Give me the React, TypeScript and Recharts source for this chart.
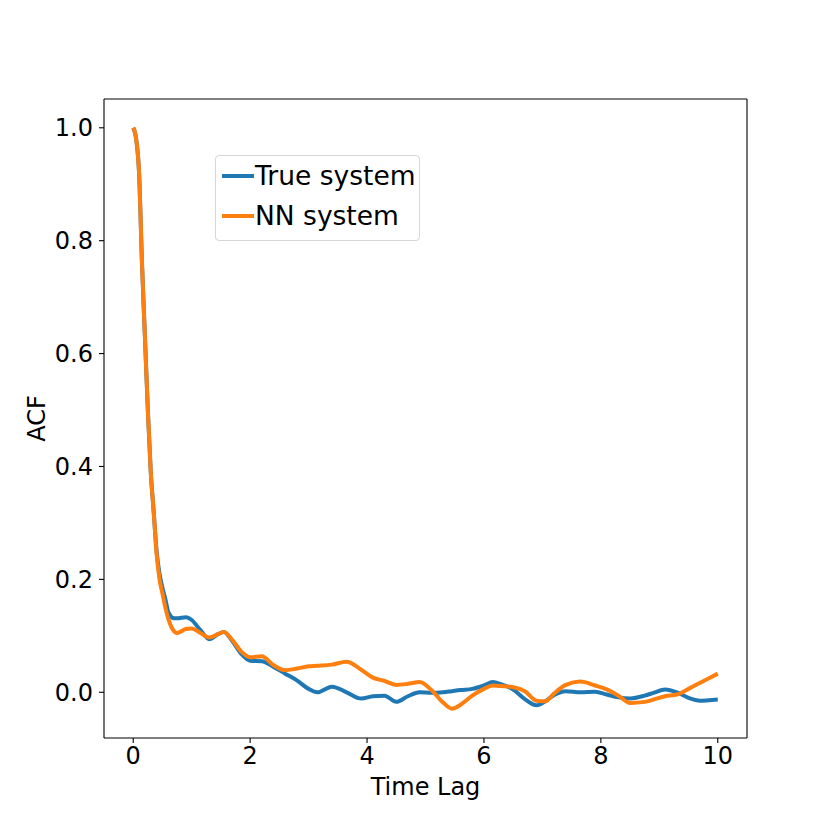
import { LineChart, Line, XAxis, YAxis, ReferenceLine } from "recharts";

const lags = [
  0, 0.05, 0.1, 0.15, 0.2, 0.25, 0.3, 0.35, 0.4, 0.45, 0.5, 0.55, 0.6, 0.7, 0.75, 0.9, 1.0, 1.15, 1.3, 1.45,
  1.55, 1.7, 1.85, 2.0, 2.2, 2.4, 2.6, 2.8, 3.0, 3.15, 3.4, 3.65, 3.9, 4.1, 4.3, 4.5, 4.7, 4.9, 5.1, 5.3,
  5.45, 5.6, 5.8, 6.0, 6.15, 6.3, 6.5, 6.7, 6.9, 7.05, 7.2, 7.4, 7.65, 7.9, 8.1, 8.3, 8.5, 8.75, 8.9, 9.1,
  9.3, 9.5, 9.7, 9.85, 10,
];

const trueAcf = [
  1.0, 0.98, 0.92, 0.76, 0.63, 0.5, 0.39, 0.32, 0.25, 0.21, 0.185, 0.165, 0.142, 0.131, 0.131, 0.133, 0.128,
  0.11, 0.094, 0.103, 0.107, 0.09, 0.068, 0.056, 0.055, 0.045, 0.033, 0.021, 0.006, 0.0, 0.01, 0.0, -0.011,
  -0.007, -0.006, -0.017, -0.007, 0.0, -0.001, 0.0, 0.002, 0.004, 0.006, 0.012, 0.018, 0.014, 0.005, -0.012,
  -0.023, -0.016, -0.005, 0.002, 0.0, 0.001, -0.004, -0.009, -0.011, -0.006, -0.001, 0.005, 0.0, -0.01,
  -0.015, -0.014, -0.013,
];

const nnAcf = [
  1.0, 0.98, 0.92, 0.76, 0.63, 0.5, 0.39, 0.32, 0.245, 0.2, 0.175, 0.15, 0.13, 0.108, 0.105, 0.112, 0.113,
  0.105, 0.097, 0.103, 0.107, 0.092, 0.072, 0.062, 0.064, 0.048, 0.039, 0.042, 0.046, 0.047, 0.049, 0.054,
  0.04, 0.026, 0.02, 0.013, 0.015, 0.018, 0.004, -0.018, -0.029, -0.022, -0.006, 0.006, 0.012, 0.011, 0.009,
  0.002, -0.015, -0.016, -0.002, 0.013, 0.019, 0.012, 0.005, -0.006, -0.019, -0.017, -0.013, -0.007, -0.004,
  0.006, 0.017, 0.025, 0.033,
];

const xTicks = [0, 2, 4, 6, 8, 10];
const yTicks = [0, 0.2, 0.4, 0.6, 0.8, 1.0];
const seriesNames = ["True system", "NN system"];
const seriesColors = ["#1f77b4", "#ff7f0e"];

const xDomain = [-0.5, 10.5];
const yDomain = [-0.081, 1.051];

const data = lags.map((t, i) => ({ t, trueAcf: trueAcf[i], nnAcf: nnAcf[i] }));

const font = "'DejaVu Sans', sans-serif";
const tickStyle = { fontSize: 24, fill: "#000", fontFamily: font };
const frame = { stroke: "#000", strokeWidth: 1.1 };

function LegendBox() {
  return (
    <div
      style={{
        position: "absolute",
        left: 215,
        top: 155,
        width: 205,
        height: 86,
        boxSizing: "border-box",
        border: "1.5px solid #d6d6d6",
        borderRadius: 4,
        background: "rgba(255,255,255,0.8)",
        padding: "0 0 0 6px",
        fontFamily: font,
        fontSize: 26.5,
        color: "#000",
        lineHeight: "40px",
      }}
    >
      {seriesNames.map((name, i) => (
        <div key={name} style={{ display: "flex", alignItems: "center" }}>
          <span
            style={{
              display: "inline-block",
              width: 32,
              height: 4,
              background: seriesColors[i],
              marginRight: 1,
            }}
          />
          {name}
        </div>
      ))}
    </div>
  );
}

export default function App() {
  return (
    <div style={{ position: "absolute", left: 0, top: 0, width: 830, height: 830, background: "#fff" }}>
      <LineChart
        width={830}
        height={830}
        data={data}
        margin={{ top: 99, right: 83, bottom: 0, left: 0 }}
      >
        <XAxis
          dataKey="t"
          type="number"
          domain={xDomain}
          ticks={xTicks}
          tick={tickStyle}
          tickSize={5}
          tickMargin={4}
          height={92}
          axisLine={frame}
          tickLine={frame}
          label={({ viewBox }: any) => (
            <text
              x={viewBox.x + viewBox.width / 2}
              y={viewBox.y + 57}
              textAnchor="middle"
              style={tickStyle}
            >
              Time Lag
            </text>
          )}
        />
        <YAxis
          type="number"
          domain={yDomain}
          ticks={yTicks}
          tickFormatter={(v: number) => v.toFixed(1)}
          tick={tickStyle}
          tickSize={5}
          tickMargin={6}
          width={104}
          axisLine={frame}
          tickLine={frame}
          label={({ viewBox }: any) => {
            const cx = 45;
            const cy = viewBox.y + viewBox.height / 2;
            return (
              <text
                x={cx}
                y={cy}
                textAnchor="middle"
                transform={`rotate(-90 ${cx} ${cy})`}
                style={tickStyle}
              >
                ACF
              </text>
            );
          }}
        />
        <ReferenceLine y={yDomain[1]} {...frame} />
        <ReferenceLine x={xDomain[1]} {...frame} />
        <Line
          type="monotone"
          dataKey="trueAcf"
          name={seriesNames[0]}
          stroke={seriesColors[0]}
          strokeWidth={4}
          dot={false}
          isAnimationActive={false}
        />
        <Line
          type="monotone"
          dataKey="nnAcf"
          name={seriesNames[1]}
          stroke={seriesColors[1]}
          strokeWidth={4}
          dot={false}
          isAnimationActive={false}
        />
      </LineChart>
      <LegendBox />
    </div>
  );
}
